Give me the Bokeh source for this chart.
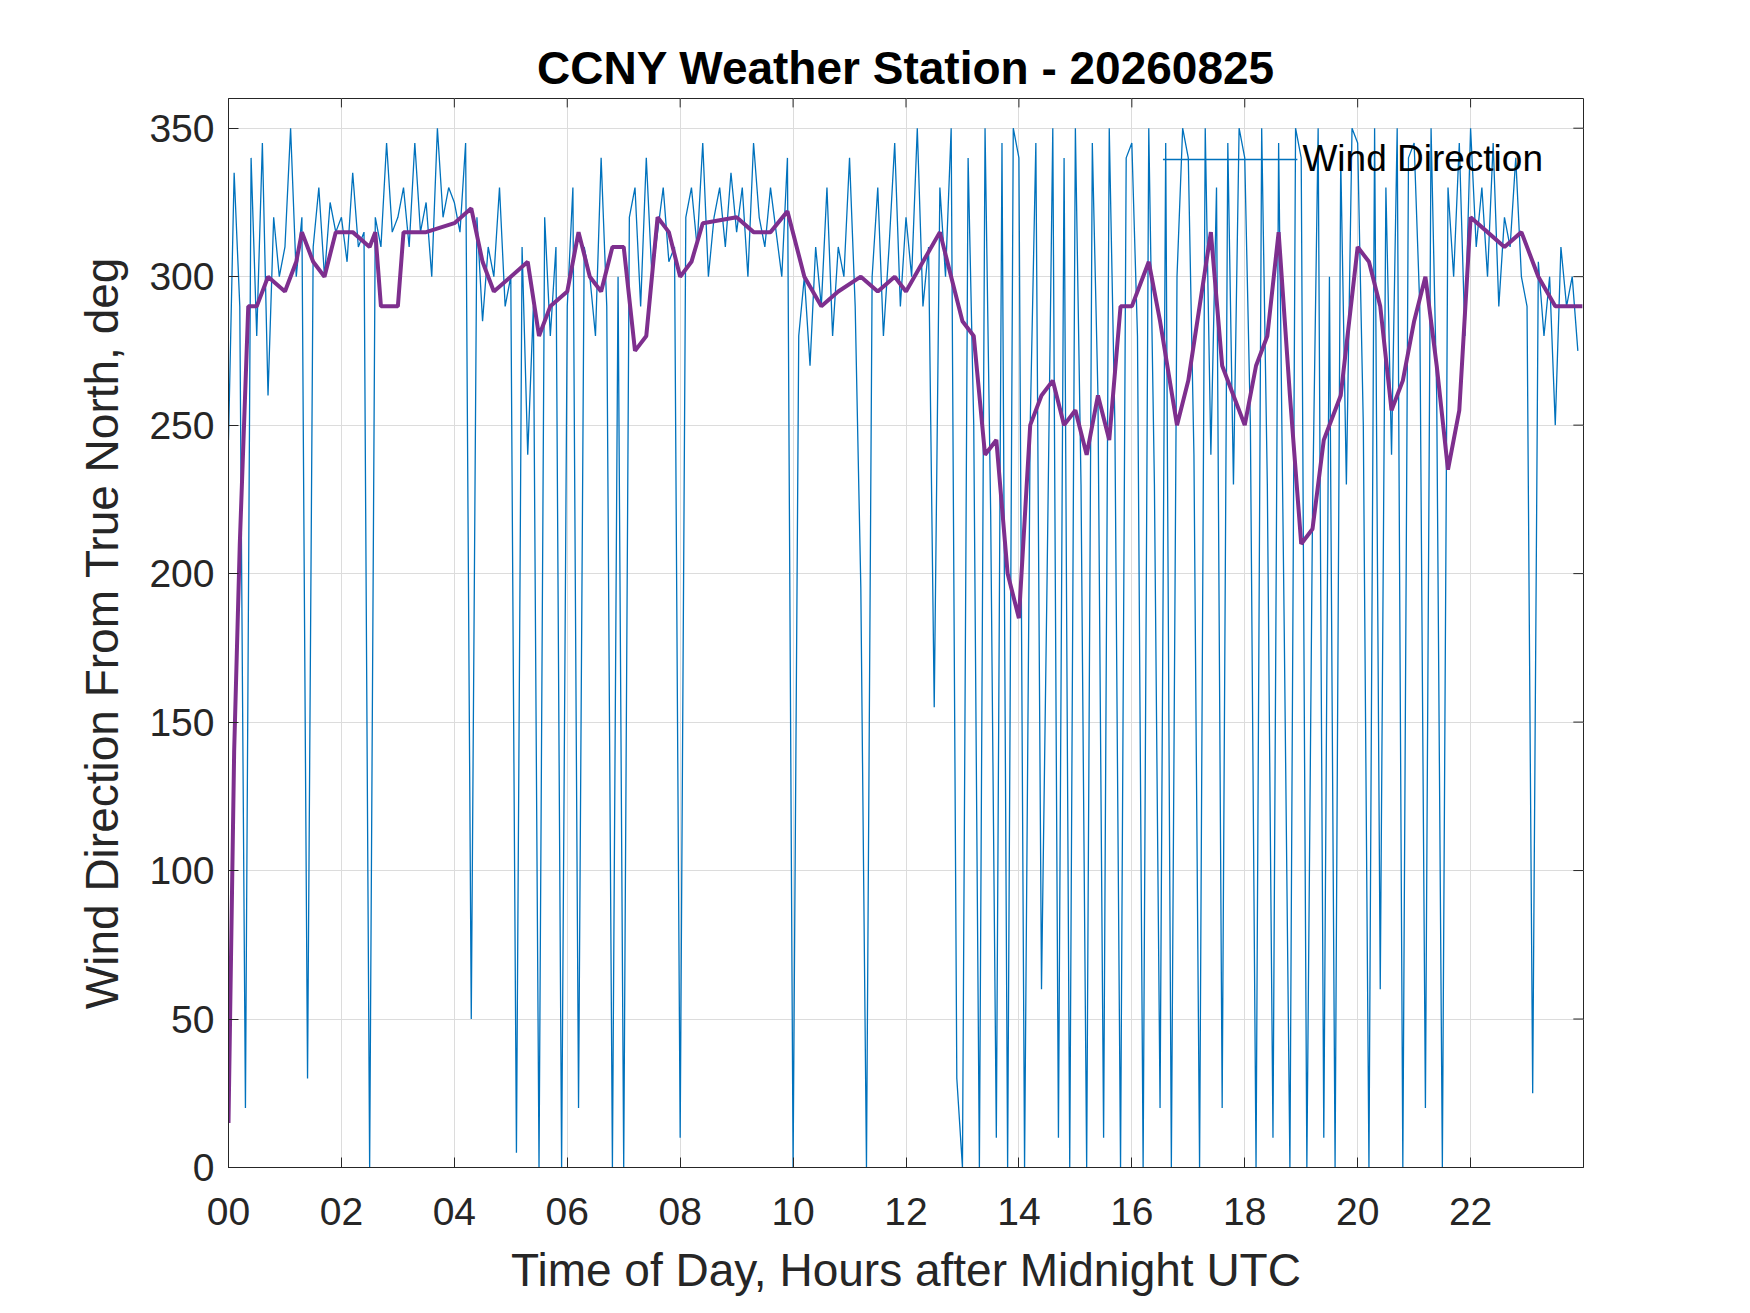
import numpy as np
from bokeh.plotting import figure
from bokeh.models import FixedTicker, Range1d
from bokeh.embed import file_html
from bokeh.resources import INLINE

blue_by_hour = [
 [245,335,290,20,340,280,345,260,320,300],
 [310,350,300,320,30,310,330,300,325,315],
 [320,305,335,310,315,0,320,310,345,315],
 [320,330,310,345,315,325,300,350,320,330],
 [325,315,345,50,320,285,310,300,330,290],
 [300,5,310,240,290,0,320,280,310,0],
 [290,330,20,310,300,280,340,290,0,300],
 [0,320,330,290,340,300,315,330,305,310],
 [10,320,330,310,345,300,320,330,310,335],
 [315,330,300,345,320,310,330,315,300,340],
 [0,280,300,270,310,290,330,280,310,300],
 [340,290,195,0,300,330,280,310,345,290],
 [320,300,350,290,310,155,330,300,350,30],
 [0,340,250,0,350,220,10,345,0,350],
 [340,0,250,345,60,200,350,10,340,0],
 [350,230,0,345,260,10,350,250,0,340],
 [345,280,0,350,230,20,345,0,300,350],
 [340,240,0,350,240,330,20,345,230,350],
 [340,250,0,350,230,10,345,180,0,350],
 [340,0,220,350,10,300,0,340,230,350],
 [345,250,0,350,60,330,240,350,0,340],
 [345,290,20,350,260,0,330,300,345,280],
 [350,310,330,300,345,290,320,310,340,300],
 [290,25,305,280,300,250,310,290,300,275],
]
blue_y = [v for h in blue_by_hour for v in h]
blue_x = [i * 0.1 for i in range(len(blue_y))]

purple_x = [0.0,0.1,0.2,0.35,0.5,0.7,1.0,1.2,1.3,1.5,1.7,1.9,2.2,2.5,2.6,2.7,3.0,3.1,3.5,4.0,4.3,4.5,4.7,5.0,5.3,5.5,5.7,6.0,6.2,6.4,6.6,6.8,7.0,7.2,7.4,7.6,7.8,8.0,8.2,8.4,9.0,9.3,9.6,9.9,10.2,10.5,10.8,11.2,11.5,11.8,12.0,12.3,12.6,12.8,13.0,13.2,13.4,13.6,13.8,14.0,14.2,14.4,14.6,14.8,15.0,15.2,15.4,15.6,15.8,16.0,16.3,16.5,16.8,17.0,17.2,17.4,17.6,17.8,18.0,18.2,18.4,18.6,18.8,19.0,19.2,19.4,19.7,20.0,20.2,20.4,20.6,20.8,21.0,21.2,21.4,21.6,21.8,22.0,22.3,22.6,22.9,23.2,23.5,23.8,23.98]
purple_y = [15,140,210,290,290,300,295,305,315,305,300,315,315,310,315,290,290,315,315,318,323,305,295,300,305,280,290,295,315,300,295,310,310,275,280,320,315,300,305,318,320,315,315,322,300,290,295,300,295,300,295,305,315,300,285,280,240,245,200,185,250,260,265,250,255,240,260,245,290,290,305,285,250,265,290,315,270,260,250,270,280,315,260,210,215,245,260,310,305,290,255,265,285,300,270,235,255,320,315,310,315,300,290,290,290]

x_ticks = list(range(0, 24, 2))
y_ticks = list(range(0, 351, 50))

FONT = "Liberation Sans"
p = figure(frame_width=1355, frame_height=1069, min_border_left=228, min_border_right=151,
           min_border_top=98, min_border_bottom=120, output_backend="svg", toolbar_location=None,
           x_range=Range1d(0, 24), y_range=Range1d(0, 360), title="CCNY Weather Station - 20260825")
p.title.align = "center"
p.title.text_font = FONT
p.title.text_font_size = "46px"
p.title.text_font_style = "bold"
p.title.text_color = "black"
p.outline_line_color = "#262626"

p.line(blue_x, blue_y, color="#0072BD", line_width=1.3, legend_label="Wind Direction")
p.line(purple_x, purple_y, color="#7E2F8E", line_width=4)

p.segment(x0=x_ticks, y0=[360]*len(x_ticks), x1=x_ticks, y1=[357]*len(x_ticks), color="#262626", line_width=1)
p.segment(x0=[24]*len(y_ticks), y0=y_ticks, x1=[23.82]*len(y_ticks), y1=y_ticks, color="#262626", line_width=1)

xt = FixedTicker(ticks=x_ticks)
yt = FixedTicker(ticks=y_ticks)
p.xaxis.ticker = xt
p.yaxis.ticker = yt
p.xaxis.major_label_overrides = {t: f"{t:02d}" for t in x_ticks}
p.xaxis.axis_label = "Time of Day, Hours after Midnight UTC"
p.yaxis.axis_label = "Wind Direction From True North, deg"
p.xaxis.major_label_standoff = 30
p.yaxis.major_label_standoff = 14
p.xaxis.axis_label_standoff = 16
p.yaxis.axis_label_standoff = 18
for ax in (p.xaxis[0], p.yaxis[0]):
    ax.major_label_text_font = FONT
    ax.major_label_text_font_size = "39px"
    ax.major_label_text_color = "#262626"
    ax.axis_label_text_font = FONT
    ax.axis_label_text_font_size = "46px"
    ax.axis_label_text_font_style = "normal"
    ax.axis_label_text_color = "#262626"
    ax.major_tick_in = 10
    ax.major_tick_out = 0
    ax.minor_tick_line_color = None
    ax.axis_line_color = "#262626"
    ax.major_tick_line_color = "#262626"

p.xgrid.ticker = xt
p.ygrid.ticker = yt
p.grid.grid_line_color = "#DCDCDC"

p.legend.location = "top_right"
p.legend.background_fill_alpha = 0
p.legend.border_line_color = None
p.legend.label_text_font = FONT
p.legend.label_text_font_size = "37px"
p.legend.label_text_color = "black"
p.legend.glyph_width = 135
p.legend.margin = 40
p.legend.padding = 16

open("out.html", "w").write(file_html(p, INLINE))
